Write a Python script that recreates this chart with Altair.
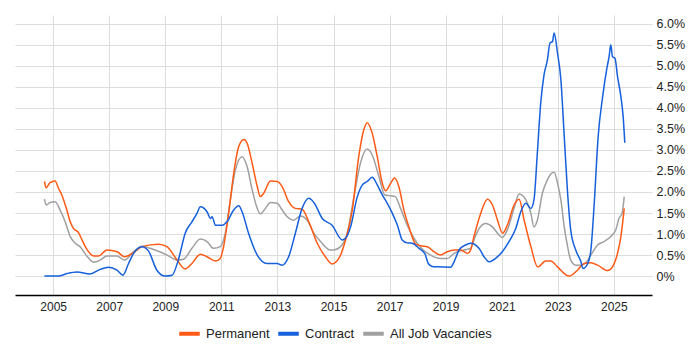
import altair as alt
import pandas as pd

perm_years = [2004.69, 2004.75, 2004.89, 2005.07, 2005.19, 2005.31, 2005.49, 2005.61, 2005.73, 2005.90,
              2006.03, 2006.20, 2006.44, 2006.62, 2006.92, 2007.28, 2007.54, 2007.87, 2008.17, 2008.76,
              2009.06, 2009.42, 2009.71, 2009.95, 2010.25, 2010.49, 2010.79, 2010.96, 2011.08, 2011.26,
              2011.44, 2011.62, 2011.80, 2011.92, 2012.10, 2012.28, 2012.39, 2012.51, 2012.75, 2012.99,
              2013.17, 2013.40, 2013.64, 2013.88, 2014.12, 2014.42, 2014.71, 2014.95, 2015.19, 2015.43,
              2015.67, 2015.90, 2016.08, 2016.20, 2016.38, 2016.56, 2016.74, 2016.86, 2017.04, 2017.18,
              2017.33, 2017.51, 2017.69, 2017.93, 2018.11, 2018.35, 2018.58, 2018.82, 2019.06, 2019.30,
              2019.54, 2019.78, 2019.89, 2020.01, 2020.25, 2020.49, 2020.67, 2020.85, 2021.03, 2021.20,
              2021.44, 2021.62, 2021.80, 2022.04, 2022.28, 2022.57, 2022.75, 2022.99, 2023.40, 2023.70,
              2023.94, 2024.18, 2024.42, 2024.78, 2024.95, 2025.13, 2025.25, 2025.37]
perm_vals = [2.25, 2.10, 2.22, 2.26, 2.09, 1.93, 1.57, 1.29, 1.13, 1.04,
             0.86, 0.64, 0.48, 0.48, 0.62, 0.58, 0.46, 0.56, 0.70, 0.76,
             0.70, 0.38, 0.17, 0.30, 0.52, 0.46, 0.36, 0.42, 0.70, 1.49,
             2.44, 3.08, 3.25, 3.16, 2.68, 2.13, 1.89, 1.97, 2.26, 2.25,
             2.13, 1.77, 1.61, 1.59, 1.29, 0.78, 0.46, 0.29, 0.42, 0.86,
             1.57, 2.84, 3.48, 3.65, 3.40, 2.84, 2.21, 2.03, 2.21, 2.33,
             2.13, 1.57, 1.17, 0.76, 0.72, 0.70, 0.58, 0.50, 0.58, 0.62,
             0.62, 0.54, 0.62, 0.94, 1.49, 1.83, 1.69, 1.33, 1.02, 1.21,
             1.69, 1.83, 1.33, 0.70, 0.22, 0.36, 0.36, 0.22, 0.00, 0.14,
             0.30, 0.32, 0.26, 0.13, 0.22, 0.54, 0.94, 1.61]

contract_years = [2004.69, 2005.19, 2005.49, 2005.85, 2006.32, 2006.68, 2006.98, 2007.28, 2007.49, 2007.69,
                  2007.87, 2008.17, 2008.40, 2008.70, 2009.00, 2009.24, 2009.48, 2009.71, 2009.95, 2010.13,
                  2010.25, 2010.49, 2010.61, 2010.67, 2010.79, 2011.03, 2011.20, 2011.44, 2011.62, 2011.74,
                  2011.97, 2012.28, 2012.63, 2012.99, 2013.17, 2013.40, 2013.64, 2013.88, 2014.12, 2014.30,
                  2014.60, 2014.95, 2015.31, 2015.43, 2015.61, 2015.85, 2016.03, 2016.20, 2016.38, 2016.56,
                  2016.74, 2016.92, 2017.10, 2017.28, 2017.45, 2017.63, 2017.81, 2018.05, 2018.27, 2018.38,
                  2018.52, 2018.70, 2019.18, 2019.30, 2019.48, 2019.71, 2019.89, 2020.19, 2020.37, 2020.55,
                  2020.85, 2021.02, 2021.26, 2021.50, 2021.68, 2021.86, 2022.04, 2022.15, 2022.27, 2022.39,
                  2022.51, 2022.63, 2022.72, 2022.81, 2022.87, 2022.99, 2023.11, 2023.23, 2023.35, 2023.46,
                  2023.64, 2023.82, 2023.90, 2024.07, 2024.18, 2024.30, 2024.44, 2024.60, 2024.75, 2024.83,
                  2024.89, 2024.95, 2025.04, 2025.13, 2025.25, 2025.33, 2025.39]
contract_vals = [0.00, 0.00, 0.06, 0.10, 0.05, 0.16, 0.21, 0.14, 0.02, 0.30,
                 0.54, 0.70, 0.60, 0.14, 0.00, 0.02, 0.42, 1.02, 1.29, 1.49,
                 1.65, 1.53, 1.37, 1.41, 1.21, 1.21, 1.29, 1.57, 1.67, 1.53,
                 1.02, 0.50, 0.30, 0.30, 0.26, 0.46, 1.02, 1.61, 1.85, 1.75,
                 1.37, 1.21, 0.86, 0.90, 1.17, 1.89, 2.17, 2.25, 2.35, 2.17,
                 1.93, 1.73, 1.49, 1.21, 0.86, 0.79, 0.78, 0.66, 0.52, 0.30,
                 0.23, 0.22, 0.21, 0.34, 0.62, 0.74, 0.78, 0.66, 0.46, 0.34,
                 0.46, 0.58, 0.82, 1.13, 1.53, 1.73, 1.61, 1.81, 2.92, 4.11,
                 4.79, 5.14, 5.54, 5.58, 5.78, 5.30, 4.67, 3.32, 1.97, 1.10,
                 0.62, 0.35, 0.18, 0.30, 0.62, 1.73, 3.32, 4.27, 4.94, 5.22,
                 5.50, 5.22, 5.18, 4.75, 4.27, 3.80, 3.17]

all_years = [2004.69, 2004.75, 2004.89, 2005.07, 2005.25, 2005.43, 2005.61, 2005.79, 2005.96, 2006.20,
             2006.44, 2006.68, 2006.92, 2007.28, 2007.54, 2007.87, 2008.17, 2008.46, 2009.06, 2009.42,
             2009.65, 2009.95, 2010.25, 2010.49, 2010.72, 2010.96, 2011.14, 2011.32, 2011.50, 2011.74,
             2011.92, 2012.10, 2012.28, 2012.39, 2012.57, 2012.75, 2012.99, 2013.17, 2013.35, 2013.58,
             2013.82, 2014.06, 2014.30, 2014.54, 2014.89, 2015.01, 2015.25, 2015.49, 2015.73, 2015.96,
             2016.20, 2016.38, 2016.62, 2016.83, 2017.04, 2017.19, 2017.39, 2017.63, 2017.87, 2018.11,
             2018.46, 2018.82, 2019.06, 2019.30, 2019.65, 2019.89, 2020.01, 2020.19, 2020.43, 2020.67,
             2020.90, 2021.02, 2021.20, 2021.44, 2021.62, 2021.86, 2022.04, 2022.15, 2022.27, 2022.45,
             2022.63, 2022.75, 2022.87, 2022.99, 2023.11, 2023.23, 2023.35, 2023.46, 2023.64, 2023.82,
             2024.00, 2024.18, 2024.42, 2024.65, 2024.89, 2025.07, 2025.18, 2025.29, 2025.37]
all_vals = [1.83, 1.69, 1.75, 1.77, 1.57, 1.29, 0.94, 0.78, 0.70, 0.48,
            0.33, 0.38, 0.48, 0.48, 0.38, 0.58, 0.71, 0.66, 0.50, 0.38,
            0.40, 0.66, 0.88, 0.82, 0.66, 0.70, 1.02, 1.81, 2.52, 2.84,
            2.60, 2.05, 1.61, 1.48, 1.61, 1.75, 1.73, 1.57, 1.41, 1.33,
            1.43, 1.33, 1.02, 0.82, 0.62, 0.62, 0.70, 1.02, 1.89, 2.68,
            3.02, 2.88, 2.37, 1.93, 1.91, 1.90, 1.61, 1.21, 0.90, 0.68,
            0.50, 0.42, 0.42, 0.54, 0.62, 0.66, 0.86, 1.13, 1.25, 1.17,
            0.98, 0.92, 1.10, 1.61, 1.95, 1.81, 1.49, 1.17, 1.33, 1.97,
            2.29, 2.43, 2.47, 2.21, 1.81, 1.17, 0.70, 0.38, 0.26, 0.26,
            0.32, 0.50, 0.74, 0.82, 0.94, 1.10, 1.37, 1.49, 1.89]

series_names = ["Permanent", "Contract", "All Job Vacancies"]
series_colors = ["#FF5A14", "#1560DC", "#A0A0A0"]
year_ticks = [2005, 2007, 2009, 2011, 2013, 2015, 2017, 2019, 2021, 2023, 2025]
pct_ticks = [0, 0.5, 1.0, 1.5, 2.0, 2.5, 3.0, 3.5, 4.0, 4.5, 5.0, 5.5, 6.0]

frames = []
for name, ys, vs in [("All Job Vacancies", all_years, all_vals),
                     ("Permanent", perm_years, perm_vals),
                     ("Contract", contract_years, contract_vals)]:
    frames.append(pd.DataFrame({"year": ys, "value": vs, "series": name}))
df = pd.concat(frames, ignore_index=True)

color = alt.Color("series:N",
                  scale=alt.Scale(domain=series_names, range=series_colors),
                  legend=alt.Legend(title=None, orient="none", direction="horizontal",
                                    legendX=162, legendY=306,
                                    symbolType="stroke", symbolSize=420, symbolStrokeWidth=4,
                                    labelFontSize=13, labelColor="#222", labelFont="Liberation Sans",
                                    labelOffset=4, columnPadding=0))

x = alt.X("year:Q",
          scale=alt.Scale(domain=[2003.64, 2026.36], nice=False, zero=False),
          axis=alt.Axis(values=year_ticks, format="d", title=None, ticks=False,
                        domainColor="#000", domainWidth=1.5, gridColor="#DDDDDD",
                        labelFontSize=12, labelColor="#222", labelFont="Liberation Sans",
                        labelPadding=6))
y = alt.Y("value:Q",
          scale=alt.Scale(domain=[-0.45, 6.21], nice=False, zero=False),
          axis=alt.Axis(orient="right", values=pct_ticks, title=None, ticks=False, domain=False,
                        gridColor="#DDDDDD", labelFontSize=12.5, labelColor="#222",
                        labelFont="Liberation Sans", labelPadding=4, labelAlign="left",
                        labelExpr="datum.value == 0 ? '0%' : format(datum.value, '.1f') + '%'"))

layers = []
for name in ["All Job Vacancies", "Permanent", "Contract"]:
    layers.append(
        alt.Chart(df).transform_filter(alt.datum.series == name)
        .mark_line(strokeWidth=1.5, interpolate="monotone")
        .encode(x=x, y=y, color=color)
    )

chart = alt.layer(*layers).properties(
    width=637, height=280,
    autosize=alt.AutoSizeParams(type="none"),
    padding={"left": 7, "top": 7, "right": 40, "bottom": 50},
).configure_view(stroke=None)

chart.save("out.html", embed_options={"renderer": "svg", "actions": False})
